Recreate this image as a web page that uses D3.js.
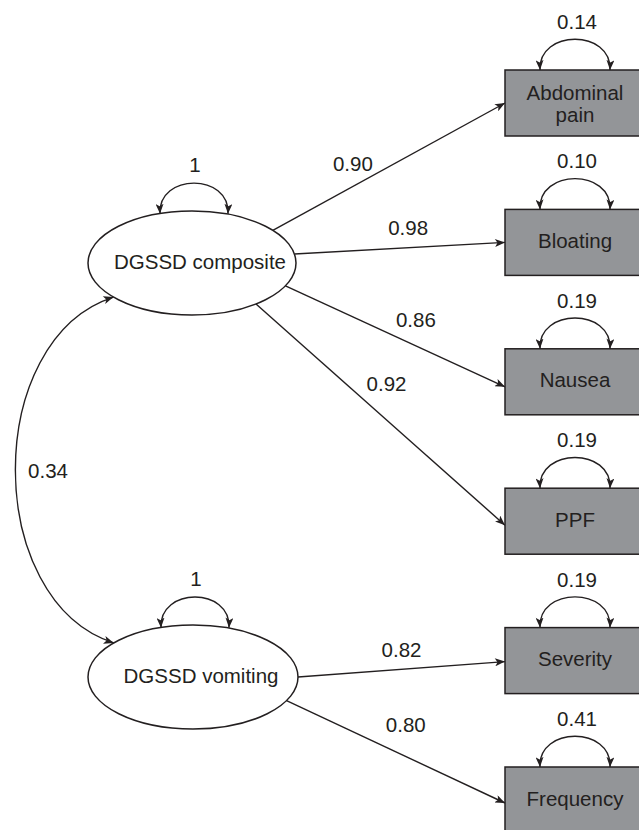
<!DOCTYPE html>
<html>
<head>
<meta charset="utf-8">
<script src="https://cdn.jsdelivr.net/npm/d3@7"></script>
<style>
body { margin: 0; background: #fff; }
text { font-family: "Liberation Sans", Arial, sans-serif; font-size: 20.5px; fill: #231f20; }
</style>
</head>
<body>
<svg width="639" height="830"></svg>
<script>
// Model values
var indicators = ["Abdominal pain", "Bloating", "Nausea", "PPF", "Severity", "Frequency"];
var residualVar = [0.14, 0.10, 0.19, 0.19, 0.19, 0.41];
var factors = ["DGSSD composite", "DGSSD vomiting"];
var factorVar = [1, 1];
var factorOf = [0, 0, 0, 0, 1, 1];
var loadings = [0.90, 0.98, 0.86, 0.92, 0.82, 0.80];
var factorCov = 0.34;

// Layout
var svg = d3.select("svg");
var ink = "#231f20";
var boxX = 505, boxW = 140, boxH = 66;
var boxTop = d3.scaleLinear().domain([0, indicators.length - 1]).range([70, 767]);
var ellipses = [
    {cx: 192, cy: 263, rx: 104, ry: 52},
    {cx: 193, cy: 677, rx: 105, ry: 52}
];
// angle (deg) where each loading leaves its ellipse, small shift of the tip,
// and where its label sits along the line
var startAngle = [-39, -10, 26, 52, 0, 27];
var endDy = [0, 0, 5, 4, 1, 3];
var labelT = [0.345, 0.54, 0.594, 0.524, 0.5, 0.546];
var labelDy = [-23, -19.5, -26, -36, -19, -32];

function onEllipse(e, deg) {
    var a = deg * Math.PI / 180;
    return [e.cx + e.rx * Math.cos(a), e.cy + e.ry * Math.sin(a)];
}

// Arrow head
svg.append("defs").append("marker")
    .attr("id", "arrow")
    .attr("viewBox", "0 0 10 8")
    .attr("refX", 10)
    .attr("refY", 4)
    .attr("markerWidth", 11)
    .attr("markerHeight", 8)
    .attr("markerUnits", "userSpaceOnUse")
    .attr("orient", "auto-start-reverse")
  .append("path")
    .attr("d", "M0,0L10,4L0,8L2.5,4Z")
    .attr("fill", ink);

// Double headed arc sitting on top of a node
function varianceArc(xc, y, half, h) {
    var p = d3.path();
    p.moveTo(xc - half, y);
    p.bezierCurveTo(xc - half - 2, y - h, xc + half + 2, y - h, xc + half, y);
    return p.toString();
}

// Loadings
var edges = loadings.map(function(v, i) {
    var s = onEllipse(ellipses[factorOf[i]], startAngle[i]);
    var t = [boxX, boxTop(i) + boxH / 2 + endDy[i]];
    return {value: v, s: s, t: t, i: i};
});

svg.selectAll(".loading")
    .data(edges)
    .enter()
    .append("path")
    .attr("class", "loading")
    .attr("d", function(d) { return "M" + d.s + "L" + d.t; })
    .attr("stroke", ink)
    .attr("stroke-width", 1.4)
    .attr("fill", "none")
    .attr("marker-end", "url(#arrow)");

svg.selectAll(".loading-label")
    .data(edges)
    .enter()
    .append("text")
    .attr("class", "loading-label")
    .attr("text-anchor", "middle")
    .attr("dy", "0.35em")
    .attr("x", function(d) { return d.s[0] + (d.t[0] - d.s[0]) * labelT[d.i]; })
    .attr("y", function(d) { return d.s[1] + (d.t[1] - d.s[1]) * labelT[d.i] + labelDy[d.i]; })
    .text(function(d) { return d.value.toFixed(2); });

// Factor covariance
var c0 = onEllipse(ellipses[0], 139);
var c1 = onEllipse(ellipses[1], -139);
var cov = d3.path();
cov.moveTo(c0[0], c0[1]);
cov.bezierCurveTo(c0[0] - 131, c0[1] + 42, c1[0] - 131, c1[1] - 42, c1[0], c1[1]);
svg.append("path")
    .attr("d", cov.toString())
    .attr("stroke", ink)
    .attr("stroke-width", 1.4)
    .attr("fill", "none")
    .attr("marker-start", "url(#arrow)")
    .attr("marker-end", "url(#arrow)");
svg.append("text")
    .attr("x", 48)
    .attr("y", (c0[1] + c1[1]) / 2 + 8)
    .attr("text-anchor", "middle")
    .text(factorCov.toFixed(2));

// Observed variables
var boxes = svg.selectAll(".indicator")
    .data(indicators)
    .enter()
    .append("g")
    .attr("class", "indicator")
    .attr("transform", function(d, i) { return "translate(" + [boxX, boxTop(i)] + ")"; });

boxes.append("rect")
    .attr("width", boxW)
    .attr("height", boxH)
    .attr("fill", "#939598")
    .attr("stroke", ink)
    .attr("stroke-width", 1.5);

boxes.append("text")
    .attr("text-anchor", "middle")
    .each(function(d) {
        var lines = d.length > 10 ? d.split(" ") : [d];
        var t = d3.select(this);
        lines.forEach(function(line, k) {
            t.append("tspan")
                .attr("x", 70)
                .attr("y", boxH / 2 + 5.5 + (k - (lines.length - 1) / 2) * 22 + (lines.length > 1 ? 2.5 : 0))
                .text(line);
        });
    });

boxes.append("path")
    .attr("d", varianceArc(70, 0, 35, 41))
    .attr("stroke", ink)
    .attr("stroke-width", 1.4)
    .attr("fill", "none")
    .attr("marker-start", "url(#arrow)")
    .attr("marker-end", "url(#arrow)");

boxes.append("text")
    .attr("x", 72)
    .attr("y", -41)
    .attr("text-anchor", "middle")
    .text(function(d, i) { return residualVar[i].toFixed(2); });

// Latent variables
var latent = svg.selectAll(".factor")
    .data(factors)
    .enter()
    .append("g")
    .attr("class", "factor");

latent.append("ellipse")
    .attr("cx", function(d, i) { return ellipses[i].cx; })
    .attr("cy", function(d, i) { return ellipses[i].cy; })
    .attr("rx", function(d, i) { return ellipses[i].rx; })
    .attr("ry", function(d, i) { return ellipses[i].ry; })
    .attr("fill", "#fff")
    .attr("stroke", ink)
    .attr("stroke-width", 1.5);

latent.append("text")
    .attr("x", function(d, i) { return ellipses[i].cx + 8; })
    .attr("y", function(d, i) { return ellipses[i].cy + 5.5; })
    .attr("text-anchor", "middle")
    .text(function(d) { return d; });

latent.append("path")
    .attr("d", function(d, i) {
        var e = ellipses[i], xc = e.cx + 2;
        var y = e.cy - e.ry * Math.sqrt(1 - Math.pow(34 / e.rx, 2));
        return varianceArc(xc, y, 34, 41);
    })
    .attr("stroke", ink)
    .attr("stroke-width", 1.4)
    .attr("fill", "none")
    .attr("marker-start", "url(#arrow)")
    .attr("marker-end", "url(#arrow)");

latent.append("text")
    .attr("x", function(d, i) { return ellipses[i].cx + 3; })
    .attr("y", function(d, i) { return ellipses[i].cy - ellipses[i].ry - 39; })
    .attr("text-anchor", "middle")
    .text(function(d, i) { return factorVar[i]; });
</script>
</body>
</html>
